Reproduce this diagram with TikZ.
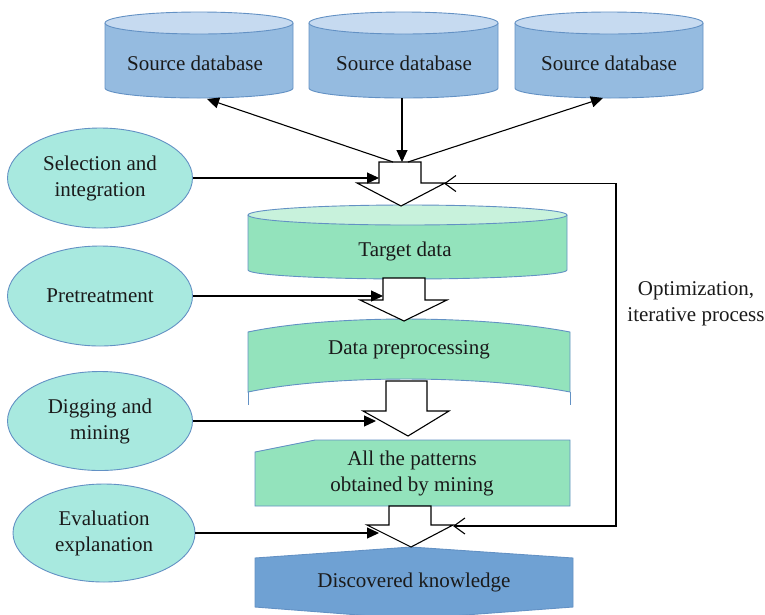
\documentclass[tikz,border=0pt]{standalone}
\usepackage{fontspec}
\setmainfont{Liberation Serif}
\usetikzlibrary{arrows.meta,shapes.geometric}

\definecolor{edgeblue}{HTML}{6391C4}
\definecolor{srcbody}{HTML}{95BBE0}
\definecolor{srctop}{HTML}{C6DAF0}
\definecolor{tgtbody}{HTML}{93E3BC}
\definecolor{tgttop}{HTML}{C8F2DC}
\definecolor{ellfill}{HTML}{A8E9DF}
\definecolor{knowfill}{HTML}{6FA1D3}
\definecolor{textdark}{HTML}{1A1A1A}

% drum (database) outline: #1 left x, #2 right x, #3 top centre y, #4 top y-radius,
% #5 bottom side y, #6 bottom y-radius, #7 body fill, #8 lid fill
\newcommand{\drum}[8]{%
  \pgfmathsetmacro\drumcx{(#1+#2)/2}%
  \pgfmathsetmacro\drumrx{(#2-#1)/2}%
  \pgfmathsetmacro\drumka{#5+0.5523*#6}%
  \pgfmathsetmacro\drumkb{#5+#6}%
  \pgfmathsetmacro\drumkl{\drumcx-0.5523*\drumrx}%
  \pgfmathsetmacro\drumkr{\drumcx+0.5523*\drumrx}%
  \fill[#7] (#1,#3) -- (#1,#5) .. controls (#1,\drumka) and (\drumkl,\drumkb) .. (\drumcx,\drumkb)
     .. controls (\drumkr,\drumkb) and (#2,\drumka) .. (#2,#5) -- (#2,#3) -- cycle;
  \draw[shapeline] (#1,#3) -- (#1,#5) .. controls (#1,\drumka) and (\drumkl,\drumkb) .. (\drumcx,\drumkb)
     .. controls (\drumkr,\drumkb) and (#2,\drumka) .. (#2,#5) -- (#2,#3);
  \draw[shapeline, fill=#8] (\drumcx,#3) ellipse [x radius=\drumrx, y radius=#4];
}

\begin{document}
\begin{tikzpicture}[x=1pt, y=-1pt,
  shapeline/.style={draw=edgeblue, line width=0.9pt},
  hollow/.style={draw=black, fill=white, line width=1.1pt, line join=miter},
  link/.style={draw=black, line width=1.1pt, -{Triangle[length=12pt,width=11pt]}},
  loopback/.style={draw=black, line width=1.1pt,
    {Straight Barb[length=11pt,width=16pt]}-{Straight Barb[length=11pt,width=16pt]}},
  txt/.style={font=\fontsize{21}{26}\selectfont, text=textdark, align=center, inner sep=0pt},
  stage/.style={ellipse, draw=edgeblue, fill=ellfill, line width=0.9pt, inner sep=0pt,
    minimum width=185pt, minimum height=100pt, txt}]

\useasboundingbox (0,0) rectangle (765,614);

% source databases
\drum{105}{293}{23}{11}{88}{10}{srcbody}{srctop}
\drum{309}{498}{23}{11}{88}{10}{srcbody}{srctop}
\drum{515}{703}{23}{11}{88}{10}{srcbody}{srctop}
\node[txt] (src1) at (195,63) {Source database};
\node[txt] (src2) at (404,63) {Source database};
\node[txt] (src3) at (609,63) {Source database};

% target data drum
\drum{248}{567}{215}{10}{270}{9}{tgtbody}{tgttop}
\node[txt] (target) at (405,251.5) {Target data};

% data preprocessing banner
\filldraw[shapeline, fill=tgtbody] (248,332) .. controls (330,314.7) and (480,314.7) .. (570,332)
  -- (570,392) .. controls (480,374.7) and (330,374.7) .. (248,392) -- cycle;
\draw[shapeline] (248,392) -- (248,405);
\draw[shapeline] (570,392) -- (570,405);
\node[txt] (prep) at (409,350) {Data preprocessing};

% mined patterns
\filldraw[shapeline, fill=tgtbody] (255,452) -- (315,440) -- (570,440) -- (570,506) -- (255,506) -- cycle;
\node[txt] (patterns) at (412,473) {All the patterns\\obtained by mining};

% discovered knowledge
\filldraw[shapeline, fill=knowfill] (255,558) -- (411,547) -- (573,558) -- (573,607) -- (411,619) -- (255,607) -- cycle;
\node[txt] (knowledge) at (414,582.5) {Discovered knowledge};

% hollow flow arrows between the stages
\draw[hollow] (379,162) -- (379,183) -- (357,183) -- (401,206) -- (445,183) -- (421,183) -- (421,162) -- cycle;
\draw[hollow] (383,278) -- (383,300) -- (360,300) -- (404,321) -- (447,300) -- (425,300) -- (425,278) -- cycle;
\draw[hollow] (386,381) -- (386,411) -- (363,411) -- (408,436) -- (449,411) -- (427,411) -- (427,381) -- cycle;
\draw[hollow] (389,506) -- (389,525) -- (367,525) -- (411,547) -- (453,525) -- (431,525) -- (431,506) -- cycle;

% connector end points on the hollow arrows
\coordinate (joinL) at (393,162);
\coordinate (joinM) at (402,162);
\coordinate (joinR) at (408,162);
\coordinate (src1foot) at (207,99);
\coordinate (src2foot) at (402,98);
\coordinate (src3foot) at (603,98);
\coordinate (in1) at (379,178);
\coordinate (in2) at (383,296);
\coordinate (in3) at (376,421);
\coordinate (in4) at (379,533);
\coordinate (loopTop) at (444,183.5);
\coordinate (loopBot) at (453,526);
\coordinate (loopTR) at (616,183.5);
\coordinate (loopBR) at (616,526);

% links with the source databases
\draw[link] (joinL) -- (src1foot);
\draw[link] (src2foot) -- (joinM);
\draw[link] (joinR) -- (src3foot);

% process steps
\node[stage] (sel) at (100,178) {Selection and\\integration};
\node[stage] (pre) at (100,296) {Pretreatment};
\node[stage, minimum height=99pt] (dig) at (100,421) {Digging and\\mining};
\node[stage, minimum width=182pt, minimum height=98pt] (eva) at (104,533) {Evaluation\\explanation};

\draw[link] (sel.east) -- (in1);
\draw[link] (pre.east) -- (in2);
\draw[link] (dig.east) -- (in3);
\draw[link] (eva.east) -- (in4);

% feedback loop
\draw[loopback] (loopBot) -- (loopBR) -- (loopTR) -- (loopTop);
\node[txt] (loopnote) at (696,304) {Optimization,\\iterative process};

\end{tikzpicture}
\end{document}
